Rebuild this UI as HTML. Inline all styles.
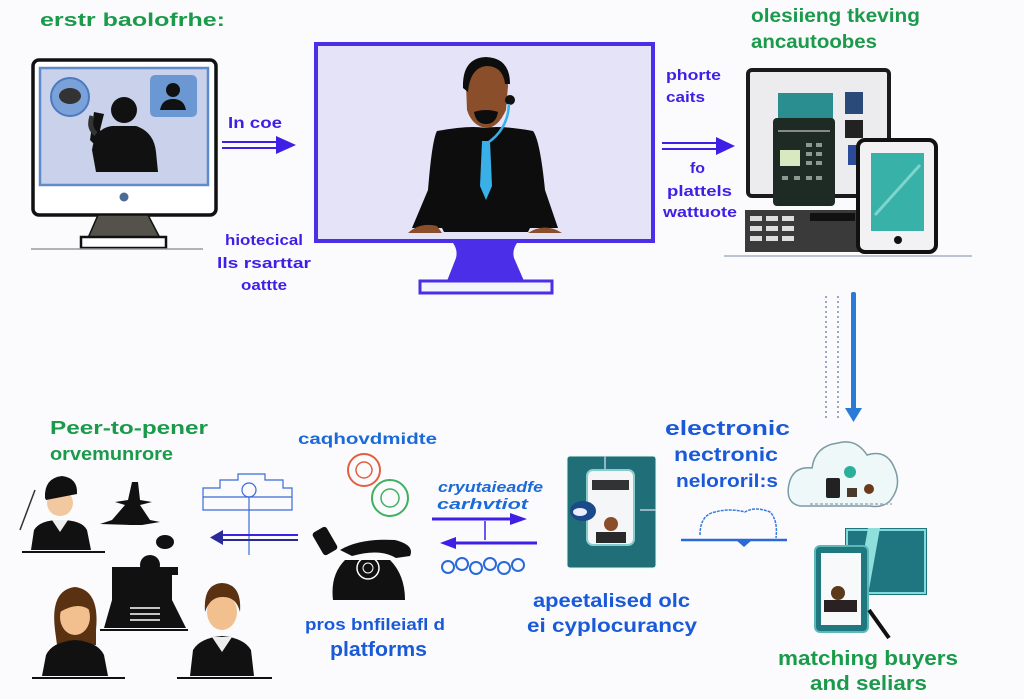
<!DOCTYPE html>
<html><head><meta charset="utf-8"><style>
html,body{margin:0;padding:0;background:#fbfbfd;width:1024px;height:699px;overflow:hidden}
svg{display:block}
text{font-family:"Liberation Sans",sans-serif;font-weight:bold}
</style></head><body>
<svg width="1024" height="699" viewBox="0 0 1024 699" xmlns="http://www.w3.org/2000/svg">
<rect width="1024" height="699" fill="#fbfbfd"/>

<!-- Top-left label -->
<text x="40" y="26" font-size="18" fill="#1a9a4a" textLength="185" lengthAdjust="spacingAndGlyphs">erstr baolofrhe:</text>

<!-- Left monitor -->
<rect x="33" y="60" width="183" height="155" rx="6" fill="#fff" stroke="#111" stroke-width="3.5"/>
<rect x="40" y="68" width="168" height="117" fill="#c9d2ea" stroke="#5f8bcb" stroke-width="2.5"/>
<circle cx="124" cy="197" r="4.5" fill="#4a6d96"/>
<path d="M98 215 L148 215 L160 238 L88 238 Z" fill="#55524c" stroke="#111" stroke-width="1.5"/>
<rect x="81" y="237" width="85" height="11" fill="#fff" stroke="#111" stroke-width="2.5"/>
<line x1="31" y1="249" x2="203" y2="249" stroke="#999" stroke-width="1.5"/>
<circle cx="70" cy="97" r="19" fill="#7aa2d8" stroke="#4a7ac0" stroke-width="2"/>
<ellipse cx="70" cy="96" rx="11" ry="8" fill="#333"/>
<rect x="150" y="75" width="47" height="42" rx="5" fill="#6b98d2"/>
<circle cx="173" cy="90" r="7" fill="#111"/>
<path d="M160 110 Q162 99 173 99 Q184 99 186 110 Z" fill="#111"/>
<circle cx="124" cy="110" r="13" fill="#111"/>
<path d="M96 172 L92 150 Q95 128 112 126 L136 126 Q154 132 156 152 L158 172 Z" fill="#111"/>
<path d="M100 150 L90 140 L94 112 L104 114 L100 130 L106 138 Z" fill="#111"/>
<path d="M92 116 Q88 128 96 134" stroke="#333" stroke-width="5" fill="none"/>

<!-- In coe arrow -->
<text x="228" y="128" font-size="16" fill="#3d1fe6" textLength="54" lengthAdjust="spacingAndGlyphs">In coe</text>
<line x1="222" y1="142" x2="282" y2="142" stroke="#3d1fe6" stroke-width="2"/>
<line x1="222" y1="148" x2="282" y2="148" stroke="#3d1fe6" stroke-width="2"/>
<path d="M276 136 L296 145 L276 154 Z" fill="#3d1fe6"/>
<text x="225" y="245" font-size="15" fill="#3d1fe6" textLength="78" lengthAdjust="spacingAndGlyphs">hiotecical</text>
<text x="217" y="268" font-size="15" fill="#3d1fe6" textLength="94" lengthAdjust="spacingAndGlyphs">lls rsarttar</text>
<text x="241" y="290" font-size="15" fill="#3d1fe6" textLength="46" lengthAdjust="spacingAndGlyphs">oattte</text>

<!-- Center monitor -->
<rect x="316" y="44" width="337" height="197" fill="#e5e3f8" stroke="#4a2ee8" stroke-width="4"/>
<path d="M453 243 L517 243 Q512 250 514 258 L524 281 L447 281 L456 258 Q458 250 453 243 Z" fill="#4a2ee8"/>
<rect x="420" y="281" width="132" height="12" fill="#f4f4fb" stroke="#4a2ee8" stroke-width="3"/>
<!-- person -->
<path d="M437 131 Q470 125 485 128 Q500 125 533 131 Q540 140 545 190 L558 228 L530 228 L528 232 L444 232 L442 228 L412 228 L428 190 Q432 140 437 131 Z" fill="#0d0d0d"/>
<path d="M408 233 Q420 222 437 226 L442 233 Z" fill="#8b4e2a"/>
<path d="M528 233 Q545 222 562 233 Z" fill="#8b4e2a"/>
<path d="M466 84 Q466 60 486 58 Q508 60 508 86 L506 110 Q498 128 486 128 Q472 126 467 110 Z" fill="#8b4e2a"/>
<path d="M463 88 Q462 58 486 57 Q510 58 510 84 L505 84 Q503 66 486 66 Q470 68 468 92 Z" fill="#0d0d0d"/>
<path d="M474 112 Q486 108 498 112 Q496 124 486 124 Q476 124 474 112 Z" fill="#0d0d0d"/>
<circle cx="510" cy="100" r="5" fill="#111"/>
<path d="M509 104 Q508 130 486 144" stroke="#3ab0e8" stroke-width="2.5" fill="none"/>
<path d="M482 141 L490 141 L492 186 L486 200 L480 186 Z" fill="#3ab0e8"/>

<!-- phone calls / to platforms -->
<text x="666" y="80" font-size="15" fill="#3d1fe6" textLength="55" lengthAdjust="spacingAndGlyphs">phorte</text>
<text x="666" y="102" font-size="15" fill="#3d1fe6" textLength="39" lengthAdjust="spacingAndGlyphs">caits</text>
<line x1="662" y1="143" x2="720" y2="143" stroke="#3d1fe6" stroke-width="2"/>
<line x1="662" y1="149" x2="720" y2="149" stroke="#3d1fe6" stroke-width="2"/>
<path d="M716 137 L735 146 L716 155 Z" fill="#3d1fe6"/>
<text x="690" y="173" font-size="15" fill="#3d1fe6" textLength="15" lengthAdjust="spacingAndGlyphs">fo</text>
<text x="667" y="196" font-size="15" fill="#3d1fe6" textLength="65" lengthAdjust="spacingAndGlyphs">plattels</text>
<text x="663" y="217" font-size="15" fill="#3d1fe6" textLength="74" lengthAdjust="spacingAndGlyphs">wattuote</text>

<!-- Right top label -->
<text x="751" y="22" font-size="19" fill="#1a9a4a" textLength="169" lengthAdjust="spacingAndGlyphs">olesiieng tkeving</text>
<text x="751" y="48" font-size="19" fill="#1a9a4a" textLength="126" lengthAdjust="spacingAndGlyphs">ancautoobes</text>

<!-- devices -->
<rect x="748" y="70" width="141" height="126" rx="4" fill="#ececef" stroke="#1a1a1a" stroke-width="4"/>
<rect x="778" y="93" width="55" height="35" fill="#2a8e90"/>
<rect x="845" y="92" width="18" height="22" fill="#2a4a7a"/>
<rect x="845" y="120" width="18" height="18" fill="#222"/>
<rect x="848" y="145" width="10" height="20" fill="#2a4a9a"/>
<rect x="773" y="118" width="62" height="88" rx="4" fill="#1e2a24"/>
<rect x="778" y="130" width="52" height="2" fill="#888"/>
<rect x="780" y="150" width="20" height="16" fill="#d8e8c0"/>
<g fill="#8a9a90"><rect x="806" y="143" width="6" height="4"/><rect x="816" y="143" width="6" height="4"/><rect x="806" y="152" width="6" height="4"/><rect x="816" y="152" width="6" height="4"/><rect x="806" y="161" width="6" height="4"/><rect x="816" y="161" width="6" height="4"/><rect x="782" y="176" width="6" height="4"/><rect x="794" y="176" width="6" height="4"/><rect x="806" y="176" width="6" height="4"/><rect x="816" y="176" width="6" height="4"/></g>
<rect x="745" y="210" width="115" height="42" fill="#3a3a3a"/>
<g fill="#ddd"><rect x="750" y="216" width="12" height="5"/><rect x="766" y="216" width="12" height="5"/><rect x="782" y="216" width="12" height="5"/><rect x="750" y="226" width="12" height="5"/><rect x="766" y="226" width="12" height="5"/><rect x="782" y="226" width="12" height="5"/><rect x="750" y="236" width="12" height="5"/><rect x="766" y="236" width="12" height="5"/><rect x="782" y="236" width="12" height="5"/></g>
<rect x="810" y="213" width="45" height="8" fill="#111"/>
<rect x="858" y="140" width="78" height="112" rx="7" fill="#f2f2f4" stroke="#111" stroke-width="4"/>
<rect x="871" y="153" width="53" height="78" fill="#38b2a8"/>
<line x1="875" y1="215" x2="920" y2="165" stroke="#7fd4cc" stroke-width="3"/>
<circle cx="898" cy="240" r="4" fill="#111"/>
<line x1="724" y1="256" x2="972" y2="256" stroke="#b8c4d4" stroke-width="2"/>

<!-- vertical arrow -->
<rect x="851" y="292" width="5" height="118" rx="2" fill="#2a7ad8"/>
<path d="M845 408 L862 408 L853.5 422 Z" fill="#2a7ad8"/>
<g stroke="#9aa8c8" stroke-width="2" stroke-dasharray="2 3">
<line x1="826" y1="296" x2="826" y2="418"/><line x1="838" y1="296" x2="838" y2="418"/></g>

<!-- cloud -->
<path d="M800 506 Q785 503 789 484 Q793 466 812 468 Q815 446 838 443 Q856 438 867 455 Q886 449 894 467 Q903 486 889 502 Q881 508 870 506 Z" fill="#eef8f9" stroke="#7a9aa4" stroke-width="1.5"/>
<circle cx="850" cy="472" r="6" fill="#2ab09a"/>
<rect x="826" y="478" width="14" height="20" rx="2" fill="#222"/>
<rect x="847" y="488" width="10" height="9" fill="#4a3a2a"/>
<circle cx="869" cy="489" r="5" fill="#6a3a1a"/>
<line x1="810" y1="504" x2="892" y2="504" stroke="#aab" stroke-width="1.5" stroke-dasharray="3 2"/>

<!-- electronic networks -->
<text x="665" y="435" font-size="20" fill="#1a5ad8" textLength="125" lengthAdjust="spacingAndGlyphs">electronic</text>
<text x="674" y="461" font-size="19" fill="#1a5ad8" textLength="104" lengthAdjust="spacingAndGlyphs">nectronic</text>
<text x="676" y="487" font-size="18" fill="#1a5ad8" textLength="102" lengthAdjust="spacingAndGlyphs">nelororil:s</text>
<path d="M700 535 Q700 515 715 512 Q730 508 745 512 Q755 506 770 512 Q778 520 776 538" stroke="#3a7ad8" stroke-width="1.5" fill="none" stroke-dasharray="3 1"/>
<line x1="681" y1="540" x2="787" y2="540" stroke="#2a6ad8" stroke-width="2.5"/>
<path d="M736 540 L744 547 L752 540 Z" fill="#2a6ad8"/>

<!-- teal card -->
<rect x="567" y="456" width="89" height="112" rx="3" fill="#1f6e78" stroke="#dfe" stroke-width="1"/>
<line x1="605" y1="456" x2="605" y2="470" stroke="#bcd" stroke-width="1.5"/>
<line x1="640" y1="510" x2="656" y2="510" stroke="#bcd" stroke-width="1.5"/>
<rect x="587" y="470" width="47" height="75" rx="6" fill="#f4f6f8" stroke="#8cc" stroke-width="2"/>
<rect x="592" y="480" width="37" height="10" fill="#333"/>
<circle cx="611" cy="524" r="7" fill="#8b4e2a"/>
<rect x="596" y="532" width="30" height="11" fill="#2a2a2a"/>
<ellipse cx="583" cy="511" rx="13" ry="10" fill="#1a4a8a"/>
<ellipse cx="580" cy="512" rx="7" ry="4" fill="#eef"/>

<text x="533" y="607" font-size="19" fill="#1a5ad8" textLength="157" lengthAdjust="spacingAndGlyphs">apeetalised olc</text>
<text x="527" y="632" font-size="19" fill="#1a5ad8" textLength="170" lengthAdjust="spacingAndGlyphs">ei cyplocurancy</text>

<!-- matching -->
<rect x="845" y="528" width="82" height="67" fill="#1f7580"/>
<rect x="847" y="530" width="78" height="63" fill="none" stroke="#7fdcd8" stroke-width="2"/>
<path d="M868 528 L880 528 L868 595 L856 595 Z" fill="#8fe0dc"/>
<rect x="815" y="546" width="53" height="86" rx="5" fill="#1f7880" stroke="#5fb8b8" stroke-width="2"/>
<rect x="821" y="553" width="40" height="72" fill="#f8f9fa"/>
<circle cx="838" cy="593" r="7" fill="#5a3a1a"/>
<rect x="824" y="600" width="33" height="12" fill="#2a2222"/>
<line x1="869" y1="610" x2="889" y2="638" stroke="#111" stroke-width="4"/>
<text x="778" y="665" font-size="20" fill="#1a9a4a" textLength="180" lengthAdjust="spacingAndGlyphs">matching buyers</text>
<text x="810" y="690" font-size="20" fill="#1a9a4a" textLength="117" lengthAdjust="spacingAndGlyphs">and seliars</text>

<!-- bottom-left label -->
<text x="50" y="434" font-size="18" fill="#1a9a4a" textLength="158" lengthAdjust="spacingAndGlyphs">Peer-to-pener</text>
<text x="50" y="460" font-size="18" fill="#1a9a4a" textLength="123" lengthAdjust="spacingAndGlyphs">orvemunrore</text>

<!-- people -->
<g>
<circle cx="60" cy="503" r="13" fill="#f2c8a0"/>
<path d="M45 498 Q44 478 62 476 Q78 478 77 494 L46 500 Z" fill="#111"/>
<path d="M31 550 L34 530 Q40 520 60 520 Q82 520 87 530 L91 550 Z" fill="#111"/>
<path d="M52 520 L68 520 L60 532 Z" fill="#eee"/>
<line x1="22" y1="552" x2="105" y2="552" stroke="#111" stroke-width="2"/>
<line x1="20" y1="530" x2="35" y2="490" stroke="#333" stroke-width="1.5"/>
</g>
<g fill="#111">
<path d="M132 482 L138 482 L140 500 L152 502 L140 505 L150 520 L160 522 L142 525 L130 525 L100 524 L112 520 L125 505 L115 502 L128 500 Z"/>
<ellipse cx="165" cy="542" rx="9" ry="7"/>
<circle cx="150" cy="565" r="10"/>
<path d="M112 567 L178 567 L178 575 L172 575 L172 600 L186 628 L104 628 L112 600 Z"/>
</g>
<g stroke="#fff" stroke-width="1.5"><line x1="130" y1="608" x2="160" y2="608"/><line x1="130" y1="614" x2="160" y2="614"/><line x1="130" y1="620" x2="160" y2="620"/></g>
<line x1="100" y1="630" x2="188" y2="630" stroke="#111" stroke-width="2"/>
<!-- woman -->
<path d="M55 630 Q50 590 75 587 Q100 590 96 630 L96 645 L57 645 Z" fill="#5a3212"/>
<ellipse cx="75" cy="617" rx="15" ry="18" fill="#f2c08e"/>
<path d="M60 612 Q62 592 77 592 Q92 594 92 612 Q80 600 60 612 Z" fill="#5a3212"/>
<path d="M42 676 L46 655 Q52 642 75 640 Q98 642 104 655 L108 676 Z" fill="#111"/>
<line x1="32" y1="678" x2="125" y2="678" stroke="#111" stroke-width="2"/>
<!-- man -->
<ellipse cx="222" cy="612" rx="15" ry="18" fill="#f2c08e"/>
<path d="M205 612 Q203 584 222 583 Q242 584 240 612 Q236 596 222 597 Q210 597 205 612 Z" fill="#5a3212"/>
<path d="M190 676 L193 650 Q200 638 222 636 Q244 638 251 650 L254 676 Z" fill="#111"/>
<path d="M212 637 L232 637 L222 652 Z" fill="#eee"/>
<line x1="177" y1="678" x2="272" y2="678" stroke="#111" stroke-width="2"/>

<!-- blue diagram + arrow -->
<g stroke="#3a6ad8" stroke-width="1.2" fill="none">
<path d="M203 488 L220 488 L220 480 L238 480 L238 474 L265 474 L265 480 L283 480 L283 488 L292 488 L292 510 L203 510 Z"/>
<line x1="203" y1="497" x2="292" y2="497"/>
<circle cx="249" cy="490" r="7"/>
<line x1="249" y1="497" x2="249" y2="555"/>
</g>
<line x1="218" y1="535" x2="298" y2="535" stroke="#3d1fe6" stroke-width="2"/>
<line x1="218" y1="540" x2="298" y2="540" stroke="#2a2a8a" stroke-width="2"/>
<path d="M223 530 L210 537.5 L223 545 Z" fill="#2a2a9a"/>

<!-- phone & circles -->
<text x="298" y="444" font-size="16" fill="#1a6ad8" textLength="139" lengthAdjust="spacingAndGlyphs">caqhovdmidte</text>
<circle cx="364" cy="470" r="16" fill="none" stroke="#e06040" stroke-width="2"/>
<circle cx="364" cy="470" r="8" fill="none" stroke="#e06040" stroke-width="1.5"/>
<circle cx="390" cy="498" r="18" fill="none" stroke="#40b060" stroke-width="2"/>
<circle cx="390" cy="498" r="9" fill="none" stroke="#40b060" stroke-width="1.5"/>
<path d="M333 600 Q330 575 345 560 L390 560 Q405 575 405 600 Z" fill="#111"/>
<path d="M340 550 Q360 538 395 540 Q415 545 410 556 L396 558 Q380 548 352 556 Z" fill="#111"/>
<rect x="317" y="528" width="16" height="26" rx="3" transform="rotate(-30 325 541)" fill="#111"/>
<circle cx="368" cy="568" r="11" fill="none" stroke="#fff" stroke-width="1.5"/>
<circle cx="368" cy="568" r="5" fill="none" stroke="#fff" stroke-width="1"/>
<text x="305" y="630" font-size="17" fill="#1a5ad8" textLength="140" lengthAdjust="spacingAndGlyphs">pros bnfileiafl d</text>
<text x="330" y="656" font-size="20" fill="#1a5ad8" font-weight="normal" textLength="97" lengthAdjust="spacingAndGlyphs">platforms</text>

<!-- middle arrows -->
<text x="438" y="492" font-size="15" fill="#1a6ad8" font-style="italic" textLength="105" lengthAdjust="spacingAndGlyphs">cryutaieadfe</text>
<text x="437" y="509" font-size="15" fill="#1a6ad8" font-style="italic" textLength="91" lengthAdjust="spacingAndGlyphs">carhvtiot</text>
<line x1="432" y1="519" x2="515" y2="519" stroke="#3d1fe6" stroke-width="3"/>
<path d="M510 513 L527 519 L510 525 Z" fill="#3d1fe6"/>
<line x1="485" y1="521" x2="485" y2="540" stroke="#3d1fe6" stroke-width="1.5"/>
<line x1="452" y1="543" x2="537" y2="543" stroke="#3d1fe6" stroke-width="3"/>
<path d="M456 537 L440 543 L456 549 Z" fill="#3d1fe6"/>
<g fill="none" stroke="#2a6ad8" stroke-width="2">
<circle cx="448" cy="567" r="6"/><circle cx="462" cy="564" r="6"/><circle cx="476" cy="568" r="6"/><circle cx="490" cy="564" r="6"/><circle cx="504" cy="568" r="6"/><circle cx="518" cy="565" r="6"/>
</g>
</svg>
</body></html>
